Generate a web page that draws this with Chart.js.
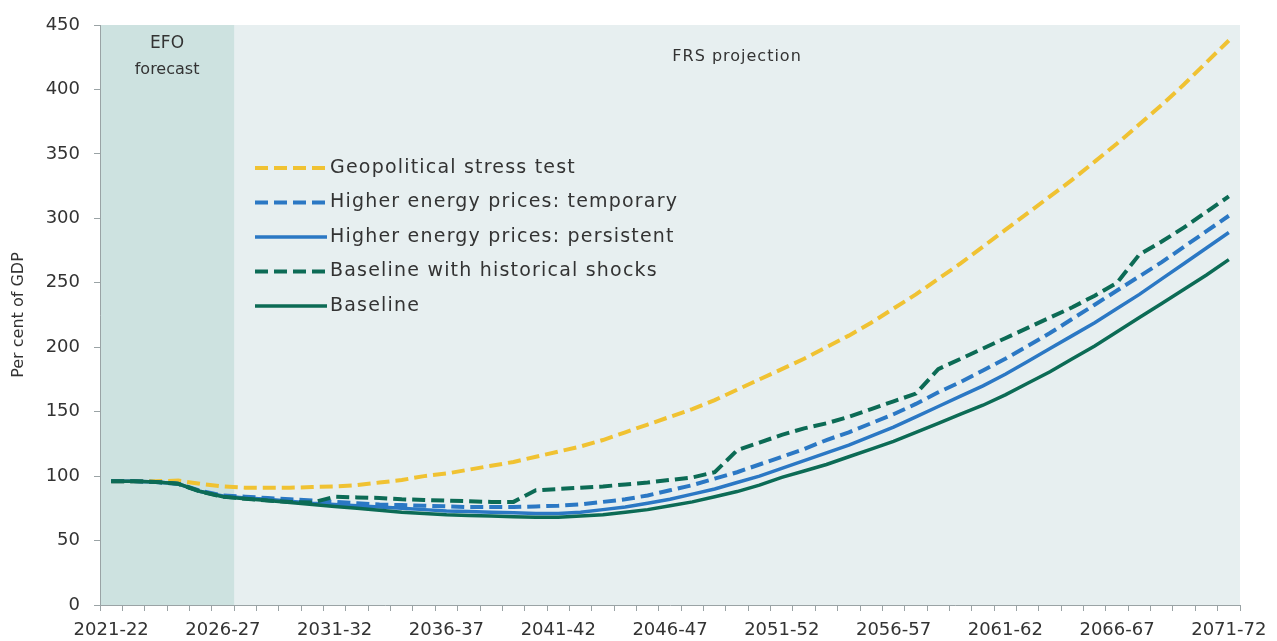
<!DOCTYPE html>
<html>
<head>
<meta charset="utf-8">
<script src="https://cdn.jsdelivr.net/npm/chart.js@4/dist/chart.umd.min.js"></script>
<style>
    html, body { margin: 0; padding: 0; background: #ffffff; }
    #wrap { width: 1277px; height: 641px; }
</style>
</head>
<body>
<div id="wrap"><canvas id="debtChart" width="1277" height="641"></canvas></div>
<script>
    // categories (fiscal years)
    var years = ['2021-22', '2022-23', '2023-24', '2024-25', '2025-26', '2026-27', '2027-28', '2028-29', '2029-30', '2030-31',
        '2031-32', '2032-33', '2033-34', '2034-35', '2035-36', '2036-37', '2037-38', '2038-39', '2039-40', '2040-41',
        '2041-42', '2042-43', '2043-44', '2044-45', '2045-46', '2046-47', '2047-48', '2048-49', '2049-50', '2050-51',
        '2051-52', '2052-53', '2053-54', '2054-55', '2055-56', '2056-57', '2057-58', '2058-59', '2059-60', '2060-61',
        '2061-62', '2062-63', '2063-64', '2064-65', '2065-66', '2066-67', '2067-68', '2068-69', '2069-70', '2070-71',
        '2071-72'];
    var xTickLabels = ['2021-22', '2026-27', '2031-32', '2036-37', '2041-42', '2046-47', '2051-52', '2056-57', '2061-62', '2066-67', '2071-72'];
    var forecastEnd = '2026-27';

    // series (per cent of GDP)
    var geopolitical = [96, 96, 96, 96.5, 94, 92, 91, 91, 91, 91.5,
        92, 93, 95, 97, 100, 102, 105, 108, 111, 115,
        119, 123, 128, 134, 140, 146, 152, 159, 167, 175,
        183, 191, 200, 209, 219, 230, 241, 253, 265, 278,
        291, 304, 317, 330, 344, 358, 373, 388, 404, 421,
        438];
    var energyTemporary = [96, 96, 95.5, 94, 88.5, 85, 84, 83, 82, 81,
        80, 79, 78, 77.5, 77, 76.5, 76, 76, 76, 76.5,
        77, 78, 80, 82, 85, 89, 93, 98, 103, 109,
        115, 121, 128, 134, 141, 148, 156, 165, 173, 182,
        191, 201, 211, 222, 233, 244, 255, 266, 278, 290,
        302];
    var energyPersistent = [96, 96, 95.5, 94, 88, 84.5, 83, 82, 80.5, 79,
        78, 77, 76, 75, 74, 73, 72.5, 72, 71.5, 71,
        71, 72, 74, 76, 79, 82, 86, 90, 95, 100,
        106, 112, 118, 124, 131, 138, 146, 154, 162, 170,
        179, 189, 199, 209, 219, 230, 241, 253, 265, 277,
        289];
    var historicalShocks = [96, 96, 95.5, 94, 88, 84, 82.5, 81, 80, 79.5,
        84, 83.5, 83, 82, 81.5, 81, 80.5, 80, 80, 89,
        90, 91, 92, 93.5, 95, 97, 99, 103, 120, 126,
        132, 137, 141, 146, 152, 158, 164, 183, 191, 199,
        207, 215, 223, 231, 240, 250, 272, 282, 293, 305,
        317];
    var baseline = [96, 96, 95.5, 94, 88, 84, 82.5, 81, 79.5, 78,
        76.5, 75, 73.5, 72, 71, 70, 69.5, 69, 68.5, 68,
        68, 69, 70, 72, 74, 77, 80, 84, 88, 93,
        99, 104, 109, 115, 121, 127, 134, 141, 148, 155,
        163, 172, 181, 191, 201, 212, 223, 234, 245, 256,
        268];

    var YELLOW = '#f0c232';
    var BLUE = '#2b78c4';
    var GREEN = '#0c6b55';
    var DASH = [13, 6];

    //------------------------------ background + annotations --------------------------
    var backgroundPlugin = {
        id: 'bgShade',
        beforeDraw: function (chart) {
            var ctx = chart.ctx;
            var area = chart.chartArea;
            var x = chart.scales.x;
            var idx = years.indexOf(forecastEnd);
            var half = (x.getPixelForValue(1) - x.getPixelForValue(0)) / 2;
            var split = x.getPixelForValue(idx) + half;
            ctx.save();
            ctx.fillStyle = '#e7eff0';
            ctx.fillRect(area.left, area.top, area.right - area.left, area.bottom - area.top);
            ctx.fillStyle = '#cde2e0';
            ctx.fillRect(area.left, area.top, split - area.left, area.bottom - area.top);
            // labels of the two periods
            ctx.fillStyle = '#333333';
            ctx.textAlign = 'center';
            ctx.textBaseline = 'middle';
            ctx.font = '17px "DejaVu Sans"';
            var cx = (area.left + split) / 2;
            ctx.fillText('EFO', cx, area.top + 19);
            ctx.font = '16px "DejaVu Sans"';
            ctx.fillText('forecast', cx, area.top + 45);
            ctx.letterSpacing = '1px';
            ctx.fillText('FRS projection', (split + area.right) / 2, area.top + 32);
            ctx.restore();
        }
    };

    //------------------------------ legend drawn in the plot --------------------------
    var legendPlugin = {
        id: 'innerLegend',
        afterDraw: function (chart) {
            var ctx = chart.ctx;
            var area = chart.chartArea;
            var left = area.left + 155;
            var top = area.top + 143;
            var rowH = 34.5;
            ctx.save();
            ctx.font = '19px "DejaVu Sans"';
            ctx.letterSpacing = '1.2px';
            ctx.textBaseline = 'middle';
            ctx.textAlign = 'left';
            chart.data.datasets.forEach(function (ds, i) {
                var y = top + i * rowH;
                ctx.beginPath();
                ctx.strokeStyle = ds.borderColor;
                ctx.lineWidth = ds.borderWidth;
                ctx.setLineDash(ds.borderDash || []);
                ctx.moveTo(left, y);
                ctx.lineTo(left + 72, y);
                ctx.stroke();
                ctx.setLineDash([]);
                ctx.fillStyle = '#333333';
                ctx.fillText(ds.label, left + 75, y);
            });
            ctx.restore();
        }
    };

    function makeSet(label, data, color, dashed, order) {
        return {
            label: label,
            data: data,
            borderColor: color,
            backgroundColor: color,
            borderWidth: dashed ? 4 : 3.5,
            borderDash: dashed ? DASH : [],
            pointRadius: 0,
            tension: 0,
            fill: false,
            order: order
        };
    }

    var ctx = document.getElementById('debtChart').getContext('2d');
    var chart = new Chart(ctx, {
        type: 'line',
        data: {
            labels: years,
            datasets: [
                makeSet('Geopolitical stress test', geopolitical, YELLOW, true, 4),
                makeSet('Higher energy prices: temporary', energyTemporary, BLUE, true, 3),
                makeSet('Higher energy prices: persistent', energyPersistent, BLUE, false, 2),
                makeSet('Baseline with historical shocks', historicalShocks, GREEN, true, 1),
                makeSet('Baseline', baseline, GREEN, false, 0)
            ]
        },
        options: {
            responsive: false,
            animation: false,
            layout: { padding: { top: 25, right: 37, left: 0, bottom: 0 } },
            plugins: {
                legend: { display: false },
                tooltip: { enabled: false }
            },
            scales: {
                x: {
                    offset: true,
                    afterFit: function (s) { s.height = 36; },
                    grid: {
                        offset: true,
                        drawOnChartArea: false,
                        drawTicks: true,
                        tickLength: 6,
                        color: '#9aa3a5'
                    },
                    border: { color: '#9aa3a5', width: 1 },
                    ticks: {
                        autoSkip: false,
                        maxRotation: 0,
                        padding: 9,
                        color: '#333333',
                        font: { family: '"DejaVu Sans"', size: 18 },
                        callback: function (v, i) {
                            var lab = years[i];
                            return xTickLabels.indexOf(lab) >= 0 ? lab : '';
                        }
                    }
                },
                y: {
                    min: 0,
                    max: 450,
                    afterFit: function (s) { s.width = 100; },
                    grid: {
                        drawOnChartArea: false,
                        drawTicks: true,
                        tickLength: 6,
                        color: '#9aa3a5'
                    },
                    border: { color: '#9aa3a5', width: 1 },
                    ticks: {
                        stepSize: 50,
                        padding: 14,
                        color: '#333333',
                        font: { family: '"DejaVu Sans"', size: 18 }
                    },
                    title: {
                        display: true,
                        text: 'Per cent of GDP',
                        color: '#333333',
                        font: { family: '"DejaVu Sans"', size: 16 },
                        padding: { top: 9, bottom: 0 }
                    }
                }
            }
        },
        plugins: [backgroundPlugin, legendPlugin]
    });
</script>
</body>
</html>
